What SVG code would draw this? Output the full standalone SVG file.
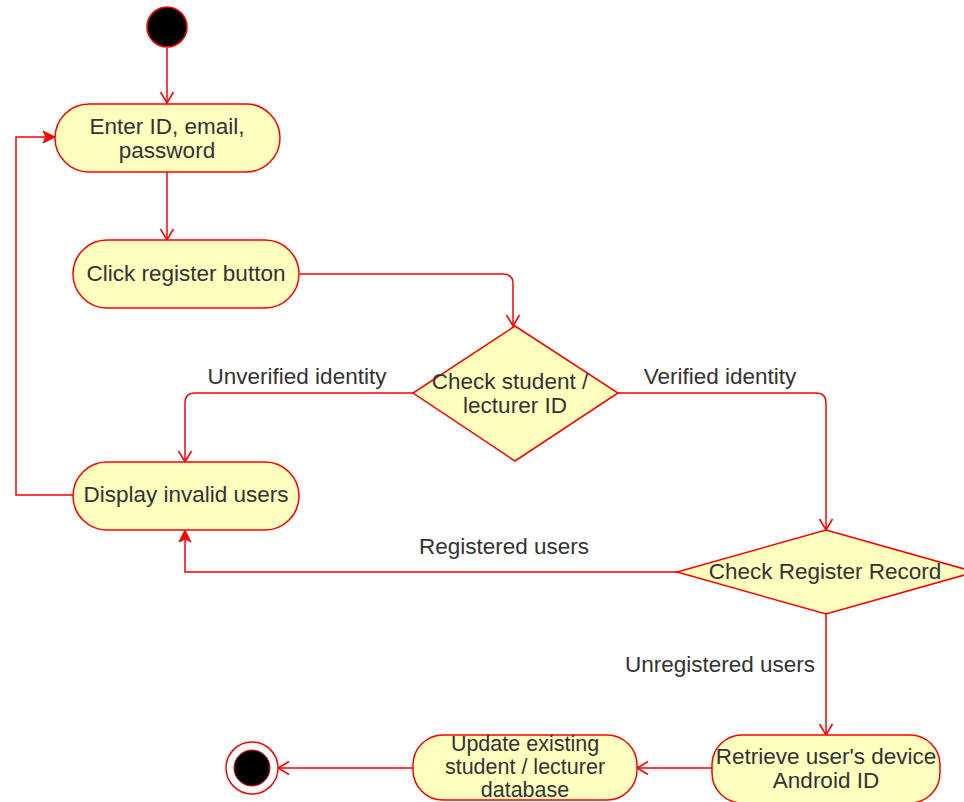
<svg xmlns="http://www.w3.org/2000/svg" width="964" height="802" viewBox="0 0 964 802">
  <style>
    .node { fill: #ffffc0; stroke: #ff0000; stroke-width: 1.5; }
    .edge { fill: none; stroke: #ff0000; stroke-width: 1.5; }
    .lbl { font-family: "Liberation Sans", Arial, sans-serif; font-size: 22.5px; fill: #333333; text-anchor: middle; }
    .tight { font-size: 21.5px; }
  </style>
  <defs>
    <marker id="open" markerUnits="userSpaceOnUse" markerWidth="16" markerHeight="16" viewBox="0 0 16 16" refX="14" refY="8" orient="auto">
      <path d="M3,1.5 L14,8 L3,14.5" fill="none" stroke="#ff0000" stroke-width="1.5"/>
    </marker>
    <marker id="block" markerUnits="userSpaceOnUse" markerWidth="16" markerHeight="16" viewBox="0 0 16 16" refX="14" refY="8" orient="auto">
      <path d="M2,2 L14,8 L2,14 L5,8 Z" fill="#ff0000" stroke="#ff0000" stroke-width="1"/>
    </marker>
  </defs>
  <rect width="964" height="802" fill="#ffffff"/>

  <g id="connectors">
    <path class="edge" d="M167,48 L167,103" marker-end="url(#open)"/>
    <path class="edge" d="M167,172 L167,240" marker-end="url(#open)"/>
    <path class="edge" d="M300,274 L503,274 Q513,274 513,284 L513,326" marker-end="url(#open)"/>
    <path class="edge" d="M413,393 L195,393 Q185,393 185,403 L185,462" marker-end="url(#open)"/>
    <path class="edge" d="M73,495 L16,495 L16,137 L55,137" marker-end="url(#block)"/>
    <path class="edge" d="M618,393 L816,393 Q826,393 826,403 L826,530" marker-end="url(#open)"/>
    <path class="edge" d="M677,572 L185,572 L185,530" marker-end="url(#block)"/>
    <path class="edge" d="M826,614 L826,735" marker-end="url(#open)"/>
    <path class="edge" d="M712,768 L637,768" marker-end="url(#open)"/>
    <path class="edge" d="M413,768 L278,768" marker-end="url(#open)"/>
    <text class="lbl" x="297" y="384">Unverified identity</text>
    <text class="lbl" x="720" y="384">Verified identity</text>
    <text class="lbl" x="504" y="554">Registered users</text>
    <text class="lbl" x="720" y="672">Unregistered users</text>
  </g>

  <g id="start">
    <circle cx="167" cy="27" r="20" fill="#000000" stroke="#ff0000" stroke-width="1.5"/>
  </g>

  <g id="enter-credentials">
    <rect class="node" x="55" y="104" width="225" height="68" rx="34" ry="34"/>
    <text class="lbl" x="167" y="134">Enter ID, email,</text>
    <text class="lbl" x="167" y="158">password</text>
  </g>

  <g id="click-register">
    <rect class="node" x="73" y="240" width="226" height="68" rx="34" ry="34"/>
    <text class="lbl" x="186" y="281">Click register button</text>
  </g>

  <g id="check-id">
    <polygon class="node" points="515,326 618,393 515,461 413,393"/>
    <text class="lbl" x="510" y="389">Check student /</text>
    <text class="lbl" x="515" y="413">lecturer ID</text>
  </g>

  <g id="display-invalid">
    <rect class="node" x="73" y="462" width="226" height="68" rx="34" ry="34"/>
    <text class="lbl" x="186" y="502">Display invalid users</text>
  </g>

  <g id="check-record">
    <polygon class="node" points="826,530 975,572 826,614 677,572"/>
    <text class="lbl" x="825" y="579">Check Register Record</text>
  </g>

  <g id="retrieve-id">
    <rect class="node" x="712" y="735" width="228" height="68" rx="30" ry="30"/>
    <text class="lbl" x="826" y="764">Retrieve user's device</text>
    <text class="lbl" x="826" y="788">Android ID</text>
  </g>

  <g id="update-db">
    <rect class="node" x="413" y="735" width="224" height="65" rx="30" ry="30"/>
    <text class="lbl tight" x="525" y="751">Update existing</text>
    <text class="lbl tight" x="525" y="774">student / lecturer</text>
    <text class="lbl tight" x="525" y="797">database</text>
  </g>

  <g id="end">
    <circle cx="252" cy="768" r="26" fill="#ffffff" stroke="#ff0000" stroke-width="1.5"/>
    <circle cx="252" cy="768" r="18" fill="#000000" stroke="#ff0000" stroke-width="1"/>
  </g>
</svg>
